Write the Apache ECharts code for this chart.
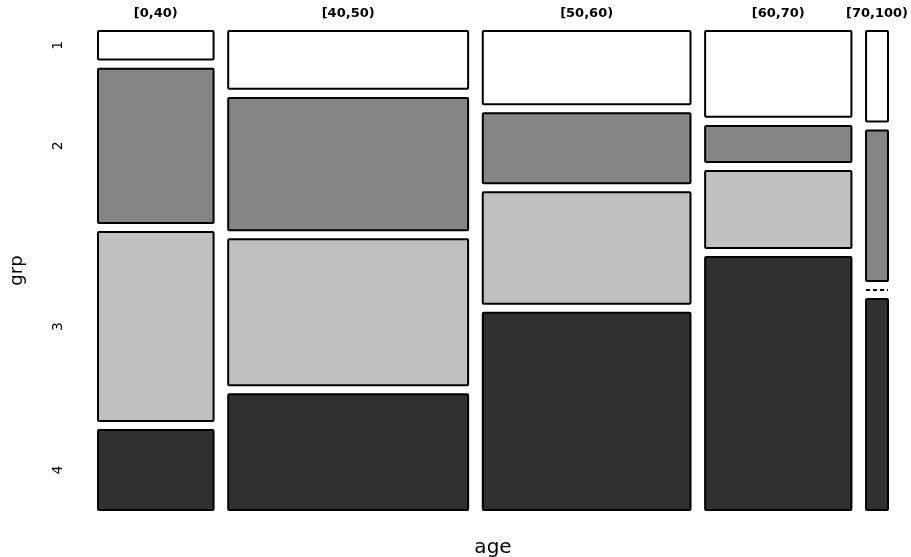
<!DOCTYPE html>
<html>
<head>
<meta charset="utf-8">
<title>grp by age</title>
<script src="https://cdn.jsdelivr.net/npm/echarts@6/dist/echarts.min.js"></script>
<style>
  html, body { margin: 0; padding: 0; background: #fff; }
  #chart { width: 911px; height: 557px; }
</style>
</head>
<body>
<div id="chart"></div>
<script>
// Age bands (columns) and groups (stacked rows inside each column)
const ageGroups = ['[0,40)', '[40,50)', '[50,60)', '[60,70)', '[70,100)'];
const groupNames = ['1', '2', '3', '4'];

// Counts per age band for each group
const grp1 = [5, 21, 23, 19, 3];
const grp2 = [27, 48, 22, 8, 5];
const grp3 = [33, 53, 35, 17, 0];
const grp4 = [14, 42, 62, 56, 7];

const groupColors = ['#ffffff', '#858585', '#c0c0c0', '#303030'];

// Spacing between tiles, in axis units
const X_GAP = 10;     // between age columns (count units)
const Y_GAP = 0.02;   // between group rows (share units)

const counts = [grp1, grp2, grp3, grp4];
const colTotals = ageGroups.map((_, j) => counts.reduce((s, row) => s + row[j], 0));
const grand = colTotals.reduce((a, b) => a + b, 0);
const xMax = grand + X_GAP * (ageGroups.length - 1);
const yMax = 1 + Y_GAP * (groupNames.length - 1);

// Tiles: [x0, x1, y0, y1, groupIndex]
const tiles = [];
const colCenters = [];
let xCursor = 0;
ageGroups.forEach((_, j) => {
  const x0 = xCursor, x1 = xCursor + colTotals[j];
  colCenters.push([(x0 + x1) / 2, j]);
  let yCursor = 0;
  groupNames.forEach((_, i) => {
    const h = counts[i][j] / colTotals[j];
    tiles.push([x0, x1, yCursor, yCursor + h, i]);
    yCursor += h + Y_GAP;
  });
  xCursor = x1 + X_GAP;
});

// Row label positions follow the first column
const rowCenters = tiles.filter(t => t[0] === 0).map(t => [0, (t[2] + t[3]) / 2, t[4]]);

const chart = echarts.init(document.getElementById('chart'), null, { renderer: 'canvas' });
const FONT = '"DejaVu Sans", "Liberation Sans", sans-serif';

chart.setOption({
  backgroundColor: '#ffffff',
  animation: false,
  grid: { left: 98, right: 23, top: 31, bottom: 47, containLabel: false, outerBoundsMode: 'none' },
  xAxis: {
    type: 'value', min: 0, max: xMax,
    axisLine: { show: false }, axisTick: { show: false },
    axisLabel: { show: false }, splitLine: { show: false },
    name: 'age', nameLocation: 'middle', nameGap: 28,
    nameTextStyle: { fontFamily: FONT, fontSize: 20, color: '#000' }
  },
  yAxis: {
    type: 'value', min: 0, max: yMax, inverse: true,
    axisLine: { show: false }, axisTick: { show: false },
    axisLabel: { show: false }, splitLine: { show: false },
    name: 'grp', nameLocation: 'middle', nameGap: 72, nameRotate: 90,
    nameTextStyle: { fontFamily: FONT, fontSize: 18, color: '#000' }
  },
  series: [
    {
      type: 'custom',
      data: tiles,
      renderItem: function (params, api) {
        const x0 = api.value(0), x1 = api.value(1);
        const y0 = api.value(2), y1 = api.value(3);
        const g = api.value(4);
        const p0 = api.coord([x0, y0]);
        const p1 = api.coord([x1, y1]);
        if (y1 - y0 <= 0) {
          // empty cell: dashed rule across the column
          return {
            type: 'line',
            shape: { x1: p0[0], y1: p0[1], x2: p1[0], y2: p0[1] },
            style: { stroke: '#000', lineWidth: 2, lineDash: [4, 3] }
          };
        }
        return {
          type: 'rect',
          shape: { x: p0[0], y: p0[1], width: p1[0] - p0[0], height: p1[1] - p0[1], r: 1 },
          style: { fill: groupColors[g], stroke: '#000', lineWidth: 2 }
        };
      }
    },
    {
      type: 'custom',
      data: colCenters,
      renderItem: function (params, api) {
        const p = api.coord([api.value(0), 0]);
        return {
          type: 'text',
          x: p[0], y: p[1] - 17,
          style: {
            text: ageGroups[api.value(1)],
            align: 'center', verticalAlign: 'middle',
            fontFamily: FONT, fontSize: 13, fontWeight: 'bold', fill: '#000'
          }
        };
      }
    },
    {
      type: 'custom',
      data: rowCenters,
      renderItem: function (params, api) {
        const p = api.coord([0, api.value(1)]);
        return {
          type: 'text',
          x: p[0] - 40, y: p[1],
          rotation: Math.PI / 2,
          style: {
            text: groupNames[api.value(2)],
            align: 'center', verticalAlign: 'middle',
            fontFamily: FONT, fontSize: 14, fill: '#000'
          }
        };
      }
    }
  ]
});
</script>
</body>
</html>
